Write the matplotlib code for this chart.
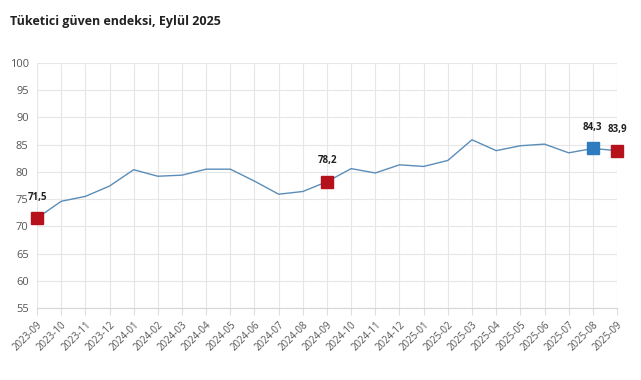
import matplotlib
matplotlib.use("Agg")
import matplotlib.pyplot as plt

plt.rcParams['font.family'] = ['Open Sans', 'DejaVu Sans']

# Monthly consumer confidence index
months = ["2023-09", "2023-10", "2023-11", "2023-12", "2024-01", "2024-02", "2024-03",
          "2024-04", "2024-05", "2024-06", "2024-07", "2024-08", "2024-09", "2024-10",
          "2024-11", "2024-12", "2025-01", "2025-02", "2025-03", "2025-04", "2025-05",
          "2025-06", "2025-07", "2025-08", "2025-09"]
values = [71.5, 74.6, 75.5, 77.4, 80.4, 79.2, 79.4, 80.5, 80.5, 78.3, 75.9, 76.4, 78.2,
          80.6, 79.8, 81.3, 81.0, 82.1, 85.9, 83.9, 84.8, 85.1, 83.5, 84.3, 83.9]

# highlighted points: (month, colour)
highlights = [("2023-09", "#b5121b"), ("2024-09", "#b5121b"),
              ("2025-08", "#2e7bbf"), ("2025-09", "#b5121b")]

yticks = list(range(55, 101, 5))

fig = plt.figure(figsize=(6.41, 3.80), dpi=100)
ax = fig.add_axes((37/641, 72/380, 580/641, 245/380))

x = list(range(len(months)))
ax.plot(x, values, color="#5b8db8", linewidth=1.0, zorder=3)

for m, c in highlights:
    i = months.index(m)
    ax.plot(x[i], values[i], marker="s", markersize=8, color=c, linestyle="none",
            zorder=4, clip_on=False)
    ax.annotate(f"{values[i]:.1f}".replace(".", ","), xy=(x[i], values[i]),
                xytext=(0, 11), textcoords="offset points", ha="center", va="bottom",
                fontsize=7, fontweight="bold", color="#222222", zorder=5,
                annotation_clip=False)

ax.set_xlim(0, len(months) - 1)
ax.set_ylim(55, 100)
ax.set_yticks(yticks)
ax.set_xticks(x)
ax.set_xticklabels(months, rotation=45, ha="right", rotation_mode="anchor")
ax.tick_params(axis="x", labelsize=7, colors="#555555", length=5, color="#dddddd", pad=3)
ax.tick_params(axis="y", labelsize=8, colors="#555555", length=0, pad=6)
ax.grid(True, color="#e6e6e6", linewidth=0.8)
ax.set_axisbelow(True)
for s in ax.spines.values():
    s.set_visible(False)
ax.spines["bottom"].set_visible(True)
ax.spines["bottom"].set_color("#d6d6d6")

fig.text(10/641, 1 - 22/380, "Tüketici güven endeksi, Eylül 2025", fontsize=9,
         fontweight="bold", color="#222222", va="center", ha="left")

fig.savefig("out.png", dpi=100)
